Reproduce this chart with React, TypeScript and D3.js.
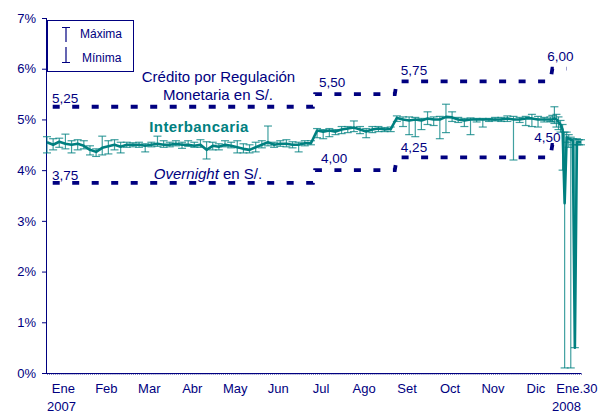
import { useEffect, useRef } from 'react';
import * as d3 from 'd3';

// business-day index of each observation (every 3rd day, daily in Jan 2008)
const DAYS = [
  0, 3, 6, 9, 12, 15, 18, 21, 24, 27, 30, 33, 36, 39, 42, 45, 48, 51, 54, 57,
  60, 63, 66, 69, 72, 75, 78, 81, 84, 87, 90, 93, 96, 99, 102, 105, 108, 111, 114, 117,
  120, 123, 126, 129, 132, 135, 138, 141, 144, 147, 150, 153, 156, 159, 162, 165, 168, 171, 174, 177,
  180, 183, 186, 189, 192, 195, 198, 201, 204, 207, 210, 213, 216, 219, 222, 225, 228, 231, 234, 237,
  240, 243, 246, 247, 248, 249, 250, 251, 252, 253, 254, 255, 256, 257, 258, 259, 260, 261,
];
const RATE = [
  4.55, 4.50, 4.56, 4.52, 4.50, 4.52, 4.48, 4.40, 4.36, 4.44, 4.47, 4.50, 4.46, 4.50, 4.50, 4.50, 4.48, 4.50, 4.52, 4.50,
  4.50, 4.52, 4.50, 4.50, 4.48, 4.50, 4.40, 4.48, 4.46, 4.50, 4.48, 4.45, 4.42, 4.40, 4.45, 4.50, 4.55, 4.50, 4.52, 4.52,
  4.50, 4.50, 4.53, 4.53, 4.78, 4.76, 4.78, 4.76, 4.80, 4.82, 4.84, 4.80, 4.76, 4.80, 4.82, 4.80, 4.81, 5.03, 5.00, 4.98,
  5.00, 4.98, 5.02, 5.00, 5.00, 5.05, 5.04, 5.00, 4.98, 5.00, 5.00, 5.00, 5.00, 5.00, 5.00, 5.02, 5.00, 5.00, 5.02, 5.02,
  5.00, 5.00, 5.00, 5.00, 5.02, 5.00, 4.95, 4.90, 4.80, 3.35, 4.65, 4.62, 4.60, 4.58, 0.50, 4.55, 4.55, 4.55,
];
const MAXIMA = [
  4.66, 4.62, 4.63, 4.71, 4.58, 4.60, 4.58, 4.48, 4.42, 4.67, 4.58, 4.60, 4.55, 4.55, 4.54, 4.55, 4.52, 4.55, 4.67, 4.58,
  4.55, 4.58, 4.55, 4.58, 4.55, 4.60, 4.56, 4.55, 4.52, 4.58, 4.55, 4.58, 4.52, 4.50, 4.55, 4.58, 4.87, 4.55, 4.58, 4.60,
  4.56, 4.55, 4.58, 4.58, 4.82, 4.80, 4.82, 4.80, 4.86, 4.86, 4.97, 4.86, 4.82, 4.86, 4.86, 4.84, 4.85, 5.07, 5.05, 5.05,
  5.04, 5.02, 5.15, 5.05, 5.06, 5.30, 5.15, 5.04, 5.02, 5.03, 5.02, 5.02, 5.02, 5.04, 5.04, 5.07, 5.06, 5.04, 5.06, 5.10,
  5.06, 5.04, 5.05, 5.08, 5.25, 5.10, 5.05, 4.98, 4.90, 4.75, 4.75, 4.70, 4.65, 4.62, 4.60, 4.62, 4.60, 4.60,
];
const MINIMA = [
  4.34, 4.40, 4.45, 4.42, 4.34, 4.40, 4.42, 4.30, 4.27, 4.30, 4.32, 4.40, 4.34, 4.45, 4.46, 4.45, 4.36, 4.46, 4.47, 4.45,
  4.46, 4.48, 4.43, 4.47, 4.45, 4.45, 4.22, 4.40, 4.40, 4.46, 4.44, 4.34, 4.34, 4.34, 4.36, 4.44, 4.48, 4.45, 4.47, 4.46,
  4.44, 4.36, 4.48, 4.50, 4.64, 4.62, 4.66, 4.70, 4.72, 4.74, 4.76, 4.72, 4.64, 4.74, 4.76, 4.76, 4.76, 4.96, 4.86, 4.70,
  4.66, 4.80, 4.90, 4.88, 4.62, 4.74, 4.96, 4.94, 4.86, 4.70, 4.95, 4.85, 4.96, 4.97, 4.96, 4.96, 4.20, 4.94, 4.88, 4.86,
  4.85, 4.95, 4.96, 4.95, 4.92, 4.85, 4.80, 4.75, 4.00, 0.10, 4.55, 4.45, 0.10, 4.50, 0.50, 4.50, 4.50, 4.50,
];

// corridor: segment boundaries (business-day index) and rates
const CORR_DAYS = [0, 131, 171, 247, 254];
const UPPER = [5.25, 5.50, 5.75, 6.00];
const LOWER = [3.75, 4.00, 4.25, 4.50];
// label offsets in px from segment start (dx, dy)
const UPPER_OFF = [[5, -4], [4, -7], [4, -6.5], [-5, -8]];
const LOWER_OFF = [[5, -3], [6, -7], [4, -5.5], [-18, -3]];

const MONTHS = ['Ene', 'Feb', 'Mar', 'Abr', 'May', 'Jun', 'Jul', 'Ago', 'Set', 'Oct', 'Nov', 'Dic', 'Ene.30'];
const MONTH_DAYS = [8, 29, 50, 71, 92, 113, 134, 155, 176, 197, 218, 239, 259];
const Y_TICKS = [0, 1, 2, 3, 4, 5, 6, 7];

const NAVY = '#000080';
const TEAL = '#008080';
const font = "Arial, 'Liberation Sans', sans-serif";

export default function App() {
  const svgRef = useRef<SVGSVGElement>(null);

  useEffect(() => {
    const svg = d3.select(svgRef.current);
    svg.selectAll('*').remove();

    const x = d3.scaleLinear().domain([0, 261]).range([47, 581]);
    const y = d3.scaleLinear().domain([0, 7]).range([373, 18]);
    const g = svg.append('g').attr('font-family', font);

    // Axes
    g.append('g').attr('transform', 'translate(47,0)')
      .call(d3.axisLeft(y).tickValues(Y_TICKS).tickSize(5).tickPadding(6).tickFormat(d => `${d}%`))
      .call(ax => {
        ax.select('.domain').attr('stroke', NAVY).attr('d', `M-0.5,${y(0)}V${y(7)}`);
        ax.selectAll('line').attr('stroke', NAVY);
        ax.selectAll('text').attr('fill', NAVY).attr('font-size', 13).attr('font-family', font);
      });
    g.append('g').attr('transform', `translate(0,${y(0)})`)
      .call(d3.axisBottom(x).tickValues(d3.range(0, 262)).tickSize(2).tickFormat(() => ''))
      .call(ax => {
        ax.select('.domain').attr('stroke', NAVY).attr('d', `M47,0.5H581`);
        ax.selectAll('line').attr('stroke', NAVY).attr('stroke-opacity', 0.5);
      });

    g.selectAll('.mlab').data(MONTHS).join('text').attr('class', 'mlab')
      .attr('x', (d, i) => x(MONTH_DAYS[i])).attr('y', 393)
      .attr('text-anchor', 'middle').attr('font-size', 13).attr('fill', NAVY).text(d => d);
    g.append('text').attr('x', 47).attr('y', 411).attr('font-size', 13).attr('fill', NAVY).text('2007');
    g.append('text').attr('x', 581).attr('y', 411).attr('text-anchor', 'end').attr('font-size', 13).attr('fill', NAVY).text('2008');

    // Corridor (dashed)
    const corridor = (vals: number[]) => {
      const pts: [number, number][] = [];
      vals.forEach((v, i) => {
        pts.push([CORR_DAYS[i], v]);
        pts.push([i === vals.length - 1 ? CORR_DAYS[i + 1] : CORR_DAYS[i + 1] - 1, v]);
      });
      return pts;
    };
    const cline = d3.line<[number, number]>().x(d => x(d[0])).y(d => y(d[1]));
    [UPPER, LOWER].forEach(vals => {
      g.append('path').datum(corridor(vals)).attr('d', cline)
        .attr('fill', 'none').attr('stroke', NAVY).attr('stroke-width', 3.8)
        .attr('stroke-dasharray', '7 12.5').attr('stroke-dashoffset', 13.8);
    });
    const fmt = (v: number) => d3.format('.2f')(v).replace('.', ',');
    [[UPPER, UPPER_OFF], [LOWER, LOWER_OFF]].forEach(([vals, off]: any) => {
      vals.forEach((v: number, i: number) => {
        g.append('text').attr('x', x(CORR_DAYS[i]) + off[i][0]).attr('y', y(v) + off[i][1])
          .attr('font-size', 13.5).attr('fill', NAVY).text(fmt(v));
      });
    });

    // Series labels
    g.append('text').attr('x', 218.5).attr('y', 82).attr('text-anchor', 'middle')
      .attr('font-size', 15).attr('fill', NAVY).text('Crédito por Regulación');
    g.append('text').attr('x', 218).attr('y', 100).attr('text-anchor', 'middle')
      .attr('font-size', 15).attr('fill', NAVY).text('Monetaria en S/.');
    g.append('text').attr('x', 199).attr('y', 132).attr('text-anchor', 'middle')
      .attr('font-size', 15).attr('font-weight', 'bold').attr('letter-spacing', 0.4)
      .attr('fill', TEAL).text('Interbancaria');
    const ov = g.append('text').attr('x', 208).attr('y', 179).attr('text-anchor', 'middle')
      .attr('font-size', 15).attr('fill', NAVY);
    ov.append('tspan').attr('font-style', 'italic').text('Overnight');
    ov.append('tspan').text(' en S/.');

    // Interbank: max / min bars
    const obs = DAYS.map((d, i) => ({ d, r: RATE[i], hi: MAXIMA[i], lo: MINIMA[i] }));
    const bars = g.append('g').attr('stroke', TEAL).attr('stroke-opacity', 0.75).attr('stroke-width', 1.2);
    bars.selectAll('.v').data(obs).join('line').attr('class', 'v')
      .attr('x1', o => x(o.d)).attr('x2', o => x(o.d)).attr('y1', o => y(o.hi)).attr('y2', o => y(o.lo));
    bars.selectAll('.ch').data(obs).join('line').attr('class', 'ch')
      .attr('x1', o => x(o.d) - 4).attr('x2', o => x(o.d) + 4).attr('y1', o => y(o.hi)).attr('y2', o => y(o.hi));
    bars.selectAll('.cl').data(obs).join('line').attr('class', 'cl')
      .attr('x1', o => x(o.d) - 4).attr('x2', o => x(o.d) + 4).attr('y1', o => y(o.lo)).attr('y2', o => y(o.lo));

    const line = d3.line<any>().x(o => x(o.d)).y(o => y(o.r));
    g.append('path').datum(obs).attr('d', line).attr('fill', 'none')
      .attr('stroke', TEAL).attr('stroke-width', 2.6).attr('stroke-linejoin', 'round');

    // Legend
    const lg = g.append('g');
    lg.append('rect').attr('x', 47.5).attr('y', 20.5).attr('width', 86).attr('height', 51)
      .attr('fill', '#fff').attr('stroke', NAVY);
    lg.append('path').attr('d', 'M62,27.5H70M66,27.5V42').attr('stroke', NAVY).attr('stroke-width', 1.2).attr('fill', 'none');
    lg.append('path').attr('d', 'M66,47V62.5M62,62.5H70').attr('stroke', NAVY).attr('stroke-width', 1.2).attr('fill', 'none');
    lg.append('text').attr('x', 80).attr('y', 38).attr('font-size', 12).attr('fill', NAVY).text('Máxima');
    lg.append('text').attr('x', 82).attr('y', 62).attr('font-size', 12).attr('fill', NAVY).text('Mínima');
  }, []);

  return (
    <svg ref={svgRef} width={610} height={414}
      style={{ position: 'absolute', left: 0, top: 0, background: '#fff' }} />
  );
}
